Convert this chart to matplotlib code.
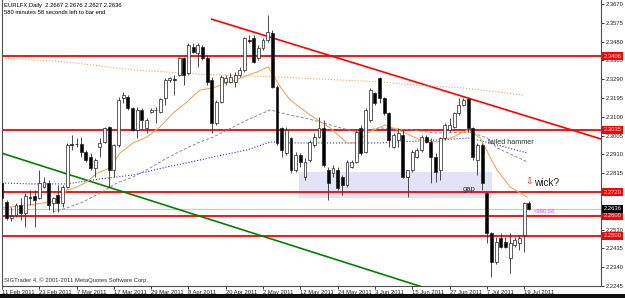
import matplotlib
matplotlib.use("Agg")
import matplotlib.pyplot as plt
import matplotlib.transforms as mtransforms
from matplotlib.patches import Rectangle

plt.rcParams['font.family'] = ['Liberation Sans', 'DejaVu Sans']

# daily candles 11 Feb 2011 .. 20 Jul 2011
opens = [2.2766, 2.2670, 2.2589, 2.2604, 2.2655, 2.2614, 2.2695, 2.2700, 2.2690, 2.2746,
         2.2766, 2.2665, 2.2705, 2.2665, 2.2746, 2.2963, 2.2963, 2.2963, 2.2922, 2.2897,
         2.2842, 2.2948, 2.2973, 2.3049, 2.2831, 2.2958, 2.3195, 2.3200, 2.3145, 2.3034,
         2.3135, 2.3044, 2.3124, 2.3135, 2.3124, 2.3195, 2.3286, 2.3291, 2.3311, 2.3397,
         2.3321, 2.3453, 2.3422, 2.3453, 2.3397, 2.3286, 2.3069, 2.3175, 2.3276, 2.3276,
         2.3276, 2.3311, 2.3337, 2.3488, 2.3498, 2.3397, 2.3448, 2.3488, 2.3523, 2.3251,
         2.3044, 2.2917, 2.2993, 2.2831, 2.2907, 2.2796, 2.2882, 2.2958, 2.2998, 2.3044,
         2.2831, 2.2816, 2.2831, 2.2796, 2.2756, 2.2847, 2.2872, 2.3044, 2.2922, 2.3084,
         2.3220, 2.3296, 2.3195, 2.3119, 2.2948, 2.2983, 2.3008, 2.2796, 2.2831, 2.2897,
         2.2933, 2.2998, 2.2973, 2.2897, 2.2831, 2.2993, 2.3034, 2.3049, 2.3119, 2.3160,
         2.3190, 2.3044, 2.2882, 2.2958, 2.2715, 2.2513, 2.2367, 2.2488, 2.2468, 2.2387,
         2.2453, 2.2463, 2.2503, 2.2667]
highs = [2.2771, 2.2680, 2.2645, 2.2665, 2.2690, 2.2715, 2.2730, 2.2730, 2.2831, 2.2796,
         2.2781, 2.2695, 2.2756, 2.2756, 2.2968, 2.3008, 2.2993, 2.2998, 2.2933, 2.2917,
         2.2892, 2.2993, 2.3049, 2.3054, 2.2963, 2.3200, 2.3225, 2.3210, 2.3150, 2.3150,
         2.3145, 2.3094, 2.3145, 2.3150, 2.3195, 2.3296, 2.3301, 2.3311, 2.3402, 2.3402,
         2.3473, 2.3473, 2.3473, 2.3463, 2.3412, 2.3301, 2.3185, 2.3311, 2.3311, 2.3321,
         2.3326, 2.3352, 2.3503, 2.3513, 2.3513, 2.3463, 2.3498, 2.3614, 2.3539, 2.3261,
         2.3049, 2.3049, 2.2998, 2.2922, 2.2917, 2.2892, 2.2983, 2.3018, 2.3099, 2.3084,
         2.2847, 2.2857, 2.2847, 2.2806, 2.2882, 2.2882, 2.3034, 2.3059, 2.3145, 2.3246,
         2.3225, 2.3301, 2.3200, 2.3124, 2.3018, 2.3044, 2.3034, 2.2831, 2.2933, 2.2943,
         2.3008, 2.3008, 2.2993, 2.2917, 2.2998, 2.3069, 2.3094, 2.3124, 2.3195, 2.3195,
         2.3195, 2.3049, 2.2968, 2.2968, 2.2720, 2.2518, 2.2493, 2.2513, 2.2493, 2.2513,
         2.2493, 2.2503, 2.2670, 2.2676]
lows = [2.2680, 2.2579, 2.2574, 2.2594, 2.2579, 2.2544, 2.2655, 2.2544, 2.2685, 2.2741,
        2.2629, 2.2619, 2.2619, 2.2645, 2.2741, 2.2933, 2.2948, 2.2897, 2.2872, 2.2831,
        2.2796, 2.2897, 2.2968, 2.2746, 2.2796, 2.2948, 2.3170, 2.3135, 2.3028, 2.2993,
        2.3034, 2.3018, 2.3119, 2.3069, 2.3119, 2.3160, 2.3276, 2.3210, 2.3306, 2.3261,
        2.3311, 2.3422, 2.3352, 2.3387, 2.3261, 2.3018, 2.3059, 2.3170, 2.3261, 2.3271,
        2.3251, 2.3301, 2.3326, 2.3473, 2.3372, 2.3387, 2.3438, 2.3478, 2.3246, 2.2958,
        2.2897, 2.2907, 2.2816, 2.2821, 2.2847, 2.2781, 2.2872, 2.2948, 2.2993, 2.2847,
        2.2680, 2.2796, 2.2730, 2.2705, 2.2746, 2.2842, 2.2867, 2.2907, 2.2917, 2.3074,
        2.3160, 2.3170, 2.3109, 2.2948, 2.2943, 2.2948, 2.2791, 2.2695, 2.2821, 2.2892,
        2.2922, 2.2968, 2.2766, 2.2771, 2.2781, 2.2983, 2.3023, 2.3044, 2.3109, 2.3155,
        2.3023, 2.2882, 2.2806, 2.2730, 2.2463, 2.2291, 2.2357, 2.2438, 2.2438, 2.2311,
        2.2443, 2.2428, 2.2417, 2.2627]
closes = [2.2690, 2.2589, 2.2599, 2.2655, 2.2614, 2.2700, 2.2690, 2.2680, 2.2766, 2.2771,
          2.2655, 2.2690, 2.2665, 2.2746, 2.2958, 2.2958, 2.2961, 2.2922, 2.2882, 2.2842,
          2.2882, 2.2968, 2.3044, 2.2831, 2.2958, 2.3185, 2.3210, 2.3145, 2.3034, 2.3135,
          2.3084, 2.3084, 2.3135, 2.3133, 2.3190, 2.3286, 2.3296, 2.3286, 2.3397, 2.3311,
          2.3463, 2.3427, 2.3463, 2.3397, 2.3276, 2.3069, 2.3175, 2.3301, 2.3296, 2.3301,
          2.3311, 2.3337, 2.3498, 2.3483, 2.3377, 2.3448, 2.3488, 2.3528, 2.3251, 2.2968,
          2.2933, 2.3034, 2.2831, 2.2907, 2.2872, 2.2872, 2.2973, 2.2998, 2.3044, 2.2857,
          2.2766, 2.2842, 2.2741, 2.2756, 2.2872, 2.2872, 2.3023, 2.2917, 2.3135, 2.3236,
          2.3170, 2.3195, 2.3119, 2.2983, 2.3008, 2.3018, 2.2796, 2.2831, 2.2922, 2.2933,
          2.2998, 2.2973, 2.2897, 2.2821, 2.2993, 2.3059, 2.3059, 2.3119, 2.3160, 2.3185,
          2.3044, 2.2897, 2.2958, 2.2766, 2.2513, 2.2367, 2.2468, 2.2443, 2.2443, 2.2463,
          2.2478, 2.2488, 2.2665, 2.2636]

date_bars = [0, 8, 16, 24, 32, 40, 48, 56, 64, 72, 80, 88, 96, 104, 112]
date_labels = ["11 Feb 2011", "23 Feb 2011", "7 Mar 2011", "17 Mar 2011", "29 Mar 2011",
               "8 Apr 2011", "20 Apr 2011", "2 May 2011", "12 May 2011", "24 May 2011",
               "3 Jun 2011", "15 Jun 2011", "27 Jun 2011", "7 Jul 2011", "19 Jul 2011"]
price_ticks = [2.3670, 2.3575, 2.3480, 2.3385, 2.3290, 2.3195, 2.3100, 2.3005,
               2.2910, 2.2815, 2.2720, 2.2625, 2.2530, 2.2435, 2.2340, 2.2245]
hidden_ticks = [2.2720, 2.2625]   # covered by the price boxes on the reference
levels = [2.3406, 2.3035, 2.2720, 2.2600, 2.2500]
last_price = 2.2636

# moving averages (bar index, price)
ma_fast_bar = [0.2, 6.0, 10.3, 12.9, 13.9, 16.1, 18.2, 20.4, 23.2, 25.3, 28.1, 31.1, 33.9,
               36.7, 39.7, 42.5, 45.3, 51.7, 54.7, 57.1, 59.7, 61.8, 66.7, 70.4, 74.0, 76.2,
               78.3, 82.2, 86.1, 89.7, 93.3, 96.8, 100.0, 102.6, 104.7, 106.2, 109.0, 111.2, 112.7]
ma_fast_val = [2.2640, 2.2655, 2.2670, 2.2695, 2.2730, 2.2746, 2.2771, 2.2816, 2.2842, 2.2917,
               2.2968, 2.2998, 2.3049, 2.3119, 2.3175, 2.3236, 2.3246, 2.3301, 2.3326, 2.3352,
               2.3251, 2.3185, 2.3099, 2.3044, 2.2968, 2.2968, 2.3018, 2.3059, 2.3023, 2.2983,
               2.2973, 2.2998, 2.3034, 2.2993, 2.2897, 2.2831, 2.2746, 2.2715, 2.2695]
ma_mid_bar = [10.9, 13.9, 17.4, 21.0, 24.7, 28.1, 31.8, 35.4, 38.8, 42.5, 45.3, 52.6, 57.5,
              61.8, 66.7, 71.9, 76.2, 81.1, 87.6, 93.3, 100.4, 104.1, 106.2, 112.7]
ma_mid_val = [2.2619, 2.2640, 2.2670, 2.2715, 2.2766, 2.2796, 2.2842, 2.2892, 2.2933, 2.2973,
              2.2998, 2.3084, 2.3135, 2.3109, 2.3084, 2.3049, 2.3023, 2.3044, 2.3034, 2.3018,
              2.3023, 2.2993, 2.2943, 2.2872]
ma_blue_bar = [0.0, 6.7, 13.9, 21.0, 28.1, 35.4, 42.5, 45.3, 52.6, 57.5, 61.8, 81.1, 93.3,
               100.4, 106.2, 112.7]
ma_blue_val = [2.2766, 2.2761, 2.2761, 2.2786, 2.2806, 2.2847, 2.2882, 2.2897, 2.2933, 2.2973,
               2.2968, 2.2968, 2.2983, 2.2993, 2.2958, 2.2917]
ma_slow_bar = [0.0, 13.9, 28.1, 42.5, 59.7, 81.1, 88.2, 98.9, 111.8]
ma_slow_val = [2.3397, 2.3377, 2.3337, 2.3316, 2.3301, 2.3276, 2.3261, 2.3246, 2.3210]

red_trend_bar = [45.0, 128.5]
red_trend_val = [2.3593, 2.2988]
green_trend_bar = [0.0, 90.1]
green_trend_val = [2.2916, 2.2241]
box_bar = [63.7, 105.1]
box_val = [2.2689, 2.2823]

fig = plt.figure(figsize=(6.25, 2.98), dpi=100)
ax = fig.add_axes([2 / 625, (298 - 286.3) / 298, 599 / 625, 286.3 / 298])
ax.set_xlim(0, 128.5)
ax.set_ylim(2.2244, 2.3690)

# zone and lines
ax.add_patch(Rectangle((box_bar[0], box_val[0]), box_bar[1] - box_bar[0], box_val[1] - box_val[0],
                       facecolor='#E2E2F8', edgecolor='none', zorder=1))
for lv in levels:
    ax.axhline(lv, color='red', lw=1.3, zorder=2)
ax.axhline(last_price, color='#C8C8C8', lw=0.8, zorder=1.5)
ax.plot(red_trend_bar, red_trend_val, color='red', lw=1.2, zorder=2)
ax.plot(green_trend_bar, green_trend_val, color='green', lw=1.2, zorder=2)

ax.plot(ma_slow_bar, ma_slow_val, color='#F4A460', lw=0.8, ls=':', zorder=2)
ax.plot(ma_blue_bar, ma_blue_val, color='#3030FF', lw=0.8, ls=':', zorder=2)
ax.plot(ma_mid_bar, ma_mid_val, color='#8C8C8C', lw=0.7, ls=(0, (3, 2)), zorder=2)
ax.plot(ma_fast_bar, ma_fast_val, color='#F4A460', lw=0.8, zorder=2)

# candles
xs = list(range(len(opens)))
ax.vlines(xs, lows, highs, color='#303030', lw=0.6, zorder=3)
bottoms = [min(o, c) for o, c in zip(opens, closes)]
heights = [max(abs(c - o), 0.00005) for o, c in zip(opens, closes)]
colors = ['white' if c >= o else 'black' for o, c in zip(opens, closes)]
ax.bar(xs, heights, bottom=bottoms, width=0.62, color=colors, edgecolor='#202020',
       linewidth=0.5, zorder=4)

# annotations
ax.text(104.3, 2.2968, "failed hammer", fontsize=5.2, color='#303030', va='center', zorder=6)
ax.text(98.9, 2.2732, "gap", fontsize=5.5, color='#303030', va='center', zorder=6)
ax.text(112.2, 2.2768, "\u21e9", fontsize=6.5, color='red', va='center',
        family=['DejaVu Sans'], zorder=6)
ax.text(114.2, 2.2764, "wick?", fontsize=7.2, color='#202020', va='center', zorder=6)
ax.text(114.0, 2.2624, "<980.58", fontsize=4.2, color='#FF40FF', va='center', zorder=6)

# axes styling
ax.spines['top'].set_visible(False)
for side in ['left', 'right', 'bottom']:
    ax.spines[side].set_color('#505050')
    ax.spines[side].set_linewidth(0.8)

ax.yaxis.tick_right()
ax.set_yticks(price_ticks)
ax.set_yticklabels(["" if p in hidden_ticks else f"{p:.4f}" for p in price_ticks])
ax.tick_params(axis='y', direction='out', length=2, width=0.6, pad=1.5, labelsize=4.2,
               colors='#202020')
ax.set_xticks(date_bars)
ax.set_xticklabels(date_labels)
ax.tick_params(axis='x', direction='out', length=2, width=0.6, pad=0.5, labelsize=4.2,
               colors='#202020')
for lab in ax.get_xticklabels():
    lab.set_ha('left')

trans = mtransforms.blended_transform_factory(ax.transAxes, ax.transData)
for lv in levels:
    ax.text(1.004, lv, f"{lv:.4f}", transform=trans, fontsize=4.2, color='white',
            va='center', ha='left', clip_on=False, zorder=10,
            bbox=dict(boxstyle='square,pad=0.25', fc='red', ec='red', lw=0))
ax.text(1.004, last_price, f"{last_price:.4f}", transform=trans, fontsize=4.2, color='white',
        va='center', ha='left', clip_on=False, zorder=10,
        bbox=dict(boxstyle='square,pad=0.25', fc='black', ec='black', lw=0))

fig.text(4 / 625, 1 - 5 / 298, "EURLFX,Daily  2.2667 2.2676 2.2627 2.2636",
         fontsize=4.2, va='center', color='black')
fig.text(4 / 625, 1 - 12 / 298, "580 minutes 58 seconds left to bar end",
         fontsize=4.2, va='center', color='black')
fig.text(4 / 625, 1 - 280 / 298, "SIGTrader 4, \u00a9 2001-2011 MetaQuotes Software Corp.",
         fontsize=4.2, va='center', color='#303030')

fig.patches.append(Rectangle((0, 0), 1, 4 / 298, transform=fig.transFigure,
                             facecolor='#101010', edgecolor='none'))

fig.savefig("out.png", dpi=100)
